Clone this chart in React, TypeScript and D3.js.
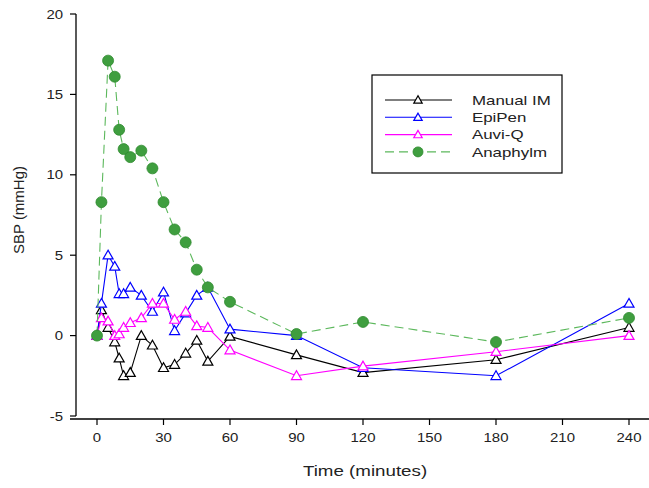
import React from 'react';
import * as d3 from 'd3';

const times = [0, 2, 5, 8, 10, 12, 15, 20, 25, 30, 35, 40, 45, 50, 60, 90, 120, 180, 240];

const manualIM = [0, 1.6, 0.5, -0.4, -1.4, -2.5, -2.3, 0, -0.6, -2.0, -1.8, -1.1, -0.3, -1.6, -0.05, -1.2, -2.3, -1.5, 0.5];
const epiPen = [0, 2.0, 5.0, 4.3, 2.6, 2.6, 3.0, 2.5, 1.5, 2.7, 0.3, 1.4, 2.5, 3.0, 0.4, 0.0, -2.0, -2.5, 2.0];
const auviQ = [0, 1.1, 0.9, 0.0, 0.1, 0.5, 0.8, 1.1, 2.0, 2.0, 1.0, 1.5, 0.6, 0.5, -0.9, -2.5, -1.9, -1.0, 0.0];
const anaphylm = [0, 8.3, 17.1, 16.1, 12.8, 11.6, 11.1, 11.5, 10.4, 8.3, 6.6, 5.8, 4.1, 3.0, 2.1, 0.1, 0.85, -0.4, 1.1];

const xTicks = [0, 30, 60, 90, 120, 150, 180, 210, 240];
const yTicks = [-5, 0, 5, 10, 15, 20];

const series = [
  { name: 'Manual IM', values: manualIM, color: '#000000', marker: 'tri', dash: null },
  { name: 'EpiPen', values: epiPen, color: '#0000ff', marker: 'tri', dash: null },
  { name: 'Auvi-Q', values: auviQ, color: '#ff00ff', marker: 'tri', dash: null },
  { name: 'Anaphylm', values: anaphylm, color: '#5cb85c', marker: 'dot', dash: '9,5' },
];

const font = 'Liberation Sans, Arial, sans-serif';

const Triangle = ({ x, y, color, s = 5 }: { x: number; y: number; color: string; s?: number }) => {
  const pts = `${x},${y - s} ${x - s},${y + s * 0.75} ${x + s},${y + s * 0.75}`;
  return <polygon points={pts} fill="white" stroke={color} strokeWidth={1.2} />;
};

const Dot = ({ x, y, r = 5.5 }: { x: number; y: number; r?: number }) => (
  <circle cx={x} cy={y} r={r} fill="#3f9e3f" stroke="#2f8a2f" strokeWidth={0.8} />
);

export default function App() {
  const width = 649;
  const height = 488;

  const x = d3.scaleLinear().domain([0, 240]).range([97, 629]);
  const y = d3.scaleLinear().domain([-5, 20]).range([416, 14]);

  const line = d3.line<[number, number]>()
    .x(d => x(d[0]))
    .y(d => y(d[1]));

  const xAxisY = 419;
  const yAxisX = 76;

  return (
    <svg width={width} height={height} style={{ position: 'absolute', left: 0, top: 0 }} fontFamily={font}>
      <rect width={width} height={height} fill="white" />

      {/* axes */}
      <line x1={yAxisX} x2={yAxisX} y1={y(20)} y2={y(-5)} stroke="#000" strokeWidth={1.3} />
      <line x1={70} x2={649} y1={xAxisY} y2={xAxisY} stroke="#000" strokeWidth={1.3} />

      {yTicks.map(t => (
        <g key={'y' + t}>
          <line x1={yAxisX - 6} x2={yAxisX} y1={y(t)} y2={y(t)} stroke="#000" strokeWidth={1.2} />
          <text transform={`translate(${yAxisX - 13},${y(t)}) scale(1.15,1)`} dy="0.35em" textAnchor="end"
            fontSize={13} fill="#222">{t}</text>
        </g>
      ))}

      {xTicks.map(t => (
        <g key={'x' + t}>
          <line x1={x(t)} x2={x(t)} y1={xAxisY} y2={xAxisY + 6} stroke="#000" strokeWidth={1.2} />
          <text transform={`translate(${x(t)},${xAxisY + 23}) scale(1.15,1)`} textAnchor="middle"
            fontSize={13} fill="#222">{t}</text>
        </g>
      ))}

      <text transform="translate(365,476) scale(1.25,1)" textAnchor="middle" fontSize={15} fill="#222">Time (minutes)</text>
      <text transform="translate(24,210) rotate(-90)" textAnchor="middle" fontSize={15} fill="#222">SBP (mmHg)</text>

      {/* series */}
      {series.map(s => {
        const pts = times.map((t, i) => [t, s.values[i]] as [number, number]);
        return (
          <g key={s.name}>
            <path d={line(pts) || ''} fill="none" stroke={s.color} strokeWidth={1.1}
              strokeDasharray={s.dash || undefined} />
            {pts.map((p, i) => s.marker === 'tri'
              ? <Triangle key={i} x={x(p[0])} y={y(p[1])} color={s.color} />
              : <Dot key={i} x={x(p[0])} y={y(p[1])} />)}
          </g>
        );
      })}

      {/* legend */}
      <rect x={372} y={75} width={190} height={98} fill="white" stroke="#000" strokeWidth={1.2} />
      {series.map((s, i) => {
        const ly = 100 + i * 17.3;
        return (
          <g key={'lg' + s.name}>
            <line x1={385} x2={452} y1={ly} y2={ly} stroke={s.color} strokeWidth={1.1}
              strokeDasharray={s.dash || undefined} />
            {s.marker === 'tri' ? <Triangle x={418} y={ly} color={s.color} s={4.2} /> : <Dot x={418} y={ly} r={5} />}
            <text transform={`translate(472,${ly}) scale(1.25,1)`} dy="0.35em" fontSize={13.5} fill="#222">{s.name}</text>
          </g>
        );
      })}
    </svg>
  );
}
